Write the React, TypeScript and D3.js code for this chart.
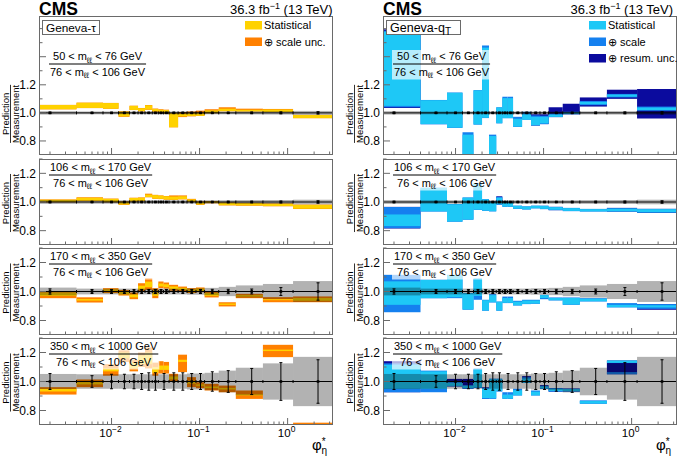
import React from 'react';
import * as d3 from 'd3';

// ---------------- data ----------------
const PHI_EDGES = [0, 0.004, 0.008, 0.012, 0.016, 0.02, 0.024, 0.029, 0.034, 0.039, 0.045, 0.057, 0.072, 0.091, 0.114, 0.165, 0.258, 0.524, 1.153, 3.277];
const PHI_EDGES_HIGH = [0, 0.004, 0.008, 0.012, 0.016, 0.02, 0.024, 0.029, 0.034, 0.045, 0.057, 0.072, 0.091, 0.114, 0.165, 0.258, 0.524, 1.153, 3.277];
const X_DOMAIN = [0.0015, 3.277];

const MASS_LO = [50, 106, 170, 350];
const MASS_HI = [76, 170, 350, 1000];
const REF_LO = 76;
const REF_HI = 106;

const X_TICK_LABELS = [[0.01, '10', '\u22122'], [0.1, '10', '\u22121'], [1, '10', '0']];
const Y_TICK_LABELS = [0.8, 1.0, 1.2];

const MODEL_NAMES = ['Geneva-\u03c4', 'Geneva-q'];
const LEGEND_LEFT = ['Statistical', '\u2295 scale unc.'];
const LEGEND_RIGHT = ['Statistical', '\u2295 scale', '\u2295 resum. unc.'];

// data uncertainty: error bar (stat) and grey band (total), half widths
const DATA_STAT_1 = [0.005, 0.004, 0.004, 0.004, 0.004, 0.004, 0.004, 0.004, 0.004, 0.004, 0.004, 0.004, 0.004, 0.004, 0.004, 0.004, 0.005, 0.006, 0.008];
const DATA_TOT_1 = [0.012, 0.01, 0.01, 0.01, 0.01, 0.01, 0.01, 0.01, 0.01, 0.01, 0.01, 0.01, 0.01, 0.01, 0.01, 0.01, 0.011, 0.012, 0.014];
const DATA_STAT_2 = [0.005, 0.004, 0.004, 0.004, 0.004, 0.004, 0.004, 0.004, 0.004, 0.004, 0.004, 0.004, 0.004, 0.004, 0.004, 0.005, 0.005, 0.006, 0.008];
const DATA_TOT_2 = [0.013, 0.012, 0.012, 0.012, 0.012, 0.012, 0.012, 0.012, 0.012, 0.012, 0.012, 0.012, 0.012, 0.012, 0.012, 0.012, 0.013, 0.014, 0.016];
const DATA_STAT_3 = [0.018, 0.014, 0.014, 0.014, 0.014, 0.014, 0.014, 0.014, 0.014, 0.014, 0.014, 0.014, 0.014, 0.014, 0.015, 0.015, 0.017, 0.027, 0.06];
const DATA_TOT_3 = [0.027, 0.02, 0.02, 0.02, 0.02, 0.02, 0.02, 0.02, 0.02, 0.02, 0.02, 0.02, 0.022, 0.022, 0.025, 0.032, 0.042, 0.052, 0.072];
const DATA_STAT_4 = [0.055, 0.04, 0.05, 0.05, 0.05, 0.055, 0.06, 0.06, 0.055, 0.06, 0.06, 0.055, 0.055, 0.067, 0.075, 0.09, 0.13, 0.15];
const DATA_TOT_4 = [0.052, 0.05, 0.05, 0.05, 0.05, 0.05, 0.05, 0.05, 0.05, 0.05, 0.05, 0.055, 0.055, 0.06, 0.075, 0.095, 0.125, 0.17];

// Geneva-tau: statistical band and stat (+) scale band, [low, high]
const TAU_STAT_1 = [[1.026, 1.056], [1.035, 1.072], [1.03, 1.07], [0.975, 1.009], [1.021, 1.05], [1.012, 1.033], [1.024, 1.054], [1.01, 1.028], [1.002, 1.022], [0.997, 1.02], [0.898, 0.998], [0.975, 0.995], [0.978, 1.0], [0.979, 1.0], [0.998, 1.018], [1.012, 1.03], [1.01, 1.022], [1.006, 1.024], [0.963, 0.985]];
const TAU_SCALE_1 = [[1.025, 1.057], [1.034, 1.073], [1.029, 1.071], [0.972, 1.011], [1.02, 1.051], [1.01, 1.035], [1.022, 1.056], [1.007, 1.031], [0.998, 1.026], [0.994, 1.023], [0.897, 1.0], [0.97, 1.006], [0.975, 1.01], [0.979, 1.016], [0.998, 1.026], [1.012, 1.04], [1.011, 1.03], [1.006, 1.028], [0.962, 0.986]];
const TAU_STAT_2 = [[1.0, 1.016], [1.008, 1.03], [1.0, 1.022], [0.982, 1.002], [1.005, 1.028], [1.008, 1.03], [1.034, 1.052], [1.024, 1.048], [1.022, 1.044], [1.018, 1.04], [1.016, 1.038], [1.02, 1.04], [1.002, 1.018], [0.982, 1.0], [0.993, 1.004], [0.978, 0.995], [0.976, 0.992], [0.972, 0.988], [0.953, 0.98]];
const TAU_SCALE_2 = [[0.998, 1.018], [1.006, 1.033], [0.998, 1.024], [0.98, 1.004], [1.003, 1.03], [1.006, 1.032], [1.033, 1.058], [1.022, 1.05], [1.02, 1.046], [1.016, 1.042], [1.015, 1.046], [1.018, 1.046], [1.0, 1.022], [0.98, 1.004], [0.991, 1.006], [0.976, 0.997], [0.974, 0.994], [0.97, 0.99], [0.951, 0.982]];
const TAU_STAT_3 = [[0.97, 0.993], [0.937, 0.948], [0.995, 1.015], [0.98, 1.0], [0.96, 0.98], [1.012, 1.04], [1.03, 1.068], [0.97, 1.008], [1.035, 1.055], [1.03, 1.05], [1.015, 1.035], [1.01, 1.025], [0.995, 1.015], [1.0, 1.02], [0.97, 0.99], [0.908, 0.917], [0.965, 0.975], [0.94, 0.947], [0.936, 0.955]];
const TAU_SCALE_3 = [[0.954, 0.996], [0.924, 0.96], [0.989, 1.023], [0.972, 1.011], [0.947, 0.993], [0.998, 1.057], [1.011, 1.092], [0.954, 1.023], [1.023, 1.069], [1.02, 1.062], [1.005, 1.046], [1.0, 1.034], [0.989, 1.023], [0.995, 1.028], [0.959, 1.0], [0.897, 0.926], [0.954, 0.984], [0.926, 0.961], [0.926, 0.966]];
const TAU_STAT_4 = [[0.931, 0.949], [0.98, 0.995], [1.07, 1.09], [1.16, 1.2], [1.09, 1.13], [1.12, 1.18], [1.12, 1.2], [1.06, 1.1], [1.08, 1.11], [1.08, 1.11], [1.015, 1.035], [1.135, 1.15], [0.985, 1.005], [0.97, 0.98], [0.955, 0.965], [0.945, 0.955], [0.904, 0.912], [1.21, 1.22], [0.69, 0.703]];
const TAU_SCALE_4 = [[0.91, 0.961], [0.961, 1.014], [1.04, 1.12], [1.135, 1.215], [1.07, 1.15], [1.1, 1.2], [1.09, 1.235], [1.04, 1.13], [1.055, 1.14], [1.055, 1.135], [1.0, 1.053], [1.065, 1.185], [0.961, 1.03], [0.954, 0.995], [0.938, 0.984], [0.926, 0.972], [0.88, 0.938], [1.168, 1.253], [0.68, 0.716]];

// Geneva-qT: statistical, stat (+) scale, stat (+) scale (+) resummation, [low, high]
const QT_STAT_1 = [[1.05, 1.578], [0.921, 1.09], [0.895, 1.143], [0.6, 0.845], [0.918, 1.16], [0.965, 1.465], [0.6, 0.835], [0.927, 1.038], [0.963, 1.105], [0.963, 1.105], [0.902, 0.958], [0.952, 0.99], [0.912, 0.972], [0.925, 0.972], [0.972, 0.988], [0.993, 1.004], [1.062, 1.078], [1.115, 1.13], [1.02, 1.038]];
const QT_SCALE_1 = [[1.04, 1.585], [0.918, 1.092], [0.893, 1.145], [0.6, 0.862], [0.916, 1.162], [0.963, 1.48], [0.6, 0.845], [0.925, 1.04], [0.962, 1.115], [0.962, 1.115], [0.9, 0.972], [0.951, 1.008], [0.91, 0.982], [0.92, 0.98], [0.97, 0.995], [0.99, 1.008], [1.055, 1.085], [1.11, 1.135], [1.015, 1.045]];
const QT_RESUM_1 = [[1.035, 1.595], null, null, null, null, null, null, null, null, null, null, null, [0.91, 0.99], [0.92, 0.99], [0.97, 1.04], [0.99, 1.065], [1.045, 1.11], [1.1, 1.165], [0.96, 1.17]];
const QT_STAT_2 = [[0.832, 0.913], [0.935, 1.098], [0.864, 0.984], [0.878, 1.03], [0.947, 1.128], [0.94, 1.018], [0.936, 1.003], [0.984, 1.03], [0.968, 1.003], [0.968, 0.998], [0.954, 0.973], [0.949, 0.968], [0.957, 0.973], [0.952, 0.972], [0.946, 0.964], [0.938, 0.957], [0.935, 0.95], [0.935, 0.954], [0.928, 0.95]];
const QT_SCALE_2 = [[0.818, 0.965], [0.933, 1.1], [0.862, 0.986], [0.876, 1.032], [0.945, 1.131], [0.938, 1.02], [0.934, 1.005], [0.982, 1.036], [0.966, 1.005], [0.966, 1.0], [0.952, 0.975], [0.947, 0.97], [0.955, 0.975], [0.95, 0.975], [0.943, 0.966], [0.936, 0.959], [0.933, 0.952], [0.933, 0.956], [0.926, 0.952]];
const QT_RESUM_2 = [[0.815, 0.966], null, null, null, null, null, null, [0.982, 1.04], null, null, null, null, null, null, [0.943, 0.966], null, null, [0.933, 0.959], [0.924, 0.952]];
const QT_STAT_3 = [[0.908, 1.07], [0.955, 1.08], [0.96, 1.113], [0.876, 0.988], [0.97, 1.088], [0.869, 0.94], [0.926, 0.975], [0.869, 0.929], [0.922, 0.955], [0.922, 0.955], [0.905, 0.93], [0.915, 0.938], [0.917, 0.938], [0.955, 0.975], [0.94, 0.955], [0.91, 0.955], [0.933, 0.95], [0.892, 0.908], [0.89, 0.905]];
const QT_SCALE_3 = [[0.857, 1.115], [0.953, 1.082], [0.954, 1.115], [0.874, 0.99], [0.943, 1.09], [0.867, 0.943], [0.924, 0.982], [0.867, 0.931], [0.92, 0.965], [0.92, 0.965], [0.903, 0.936], [0.913, 0.943], [0.915, 0.943], [0.947, 0.977], [0.938, 0.959], [0.908, 0.959], [0.931, 0.954], [0.89, 0.92], [0.88, 0.913]];
const QT_RESUM_3 = [null, null, null, null, null, null, null, null, null, null, null, null, null, null, null, null, null, null, [0.874, 0.913]];
const QT_STAT_4 = [[0.95, 1.115], [0.95, 1.07], [0.97, 0.99], [0.955, 0.97], [0.96, 1.085], [0.885, 0.95], [0.885, 1.015], [0.935, 1.015], [0.882, 0.91], [0.882, 0.91], [0.905, 0.94], [0.992, 1.02], [0.905, 0.93], [0.952, 0.965], [0.935, 0.95], [0.933, 0.947], [0.848, 0.865], [1.128, 1.145], null];
const QT_SCALE_4 = [[0.926, 1.125], [0.926, 1.075], [0.966, 0.998], [0.95, 0.975], [0.955, 1.09], [0.88, 0.955], [0.88, 1.02], [0.93, 1.02], [0.88, 0.926], [0.88, 0.926], [0.903, 0.95], [0.99, 1.03], [0.903, 0.938], [0.95, 0.97], [0.93, 0.953], [0.931, 0.95], [0.846, 0.87], [1.05, 1.065], null];
const QT_RESUM_4 = [[0.926, 1.14], null, [0.966, 1.018], [0.95, 1.018], null, [0.88, 0.96], null, null, null, null, null, [0.99, 1.037], null, [0.95, 0.975], [0.93, 0.955], [0.931, 0.952], null, [1.05, 1.145], null];

const DATA_EDGES = [PHI_EDGES, PHI_EDGES, PHI_EDGES, PHI_EDGES_HIGH];
const DATA_STAT = [DATA_STAT_1, DATA_STAT_2, DATA_STAT_3, DATA_STAT_4];
const DATA_TOT = [DATA_TOT_1, DATA_TOT_2, DATA_TOT_3, DATA_TOT_4];
const TAU_STAT = [TAU_STAT_1, TAU_STAT_2, TAU_STAT_3, TAU_STAT_4];
const TAU_SCALE = [TAU_SCALE_1, TAU_SCALE_2, TAU_SCALE_3, TAU_SCALE_4];
const QT_STAT = [QT_STAT_1, QT_STAT_2, QT_STAT_3, QT_STAT_4];
const QT_SCALE = [QT_SCALE_1, QT_SCALE_2, QT_SCALE_3, QT_SCALE_4];
const QT_RESUM = [QT_RESUM_1, QT_RESUM_2, QT_RESUM_3, QT_RESUM_4];

// ---------------- layout / style ----------------
const W = 677;
const H = 457;
const FONT = '"Liberation Sans", Arial, Helvetica, sans-serif';
const YELLOW = '#ffd200';
const ORANGE = '#ff8000';
const CYAN = '#1ec8f6';
const MEDIUM = '#1580ef';
const DARK = '#0b0b9e';
const GREY = '#b2b2b2';
const FRAME = '#6a6a6a';
const PANEL_X = [39, 383];
const PANEL_W = 294;
const ROWS = [
  { top: 16, bottom: 155, ymax: 1.69 },
  { top: 159, bottom: 245, ymax: 1.3 },
  { top: 248, bottom: 335, ymax: 1.3 },
  { top: 338, bottom: 425, ymax: 1.3 },
];

let ctx: CanvasRenderingContext2D | null = null;
function textWidth(s: string, size: number, weight = 'normal') {
  if (!ctx) ctx = document.createElement('canvas').getContext('2d');
  if (!ctx) return s.length * size * 0.55;
  ctx.font = `${weight} ${size}px ${FONT}`;
  return ctx.measureText(s).width;
}

function MassLabel({ x0, numBase, lo, hi }: { x0: number; numBase: number; lo: number; hi: number }) {
  const fs = 11;
  const sub = 8;
  const wNum = textWidth(`${lo} < m`, fs) + textWidth('\u2113\u2113', sub) + textWidth(` < ${hi} GeV`, fs);
  const wDen = textWidth(`${REF_LO} < m`, fs) + textWidth('\u2113\u2113', sub) + textWidth(` < ${REF_HI} GeV`, fs);
  const w = Math.max(wNum, wDen) + 2;
  const cx = x0 + w / 2;
  const lineY = numBase + 4;
  const denBase = numBase + 15.5;
  const part = (a: number, b: number, y: number) => (
    <text x={cx} y={y} textAnchor="middle" fontSize={fs} fontFamily={FONT} fill="#000">
      {`${a} < m`}
      <tspan fontSize={sub} dy={2.5}>{'\u2113\u2113'}</tspan>
      <tspan dy={-2.5}>{` < ${b} GeV`}</tspan>
    </text>
  );
  return (
    <g>
      <rect x={x0 - 1} y={numBase - 10} width={w + 2} height={denBase - numBase + 14} fill="#fff" fillOpacity={0.68} />
      {part(lo, hi, numBase)}
      <line x1={x0} x2={x0 + w} y1={lineY} y2={lineY} stroke="#000" strokeWidth={1} />
      {part(REF_LO, REF_HI, denBase)}
    </g>
  );
}

function Panel({ side, idx }: { side: number; idx: number }) {
  const row = ROWS[idx];
  const left = PANEL_X[side];
  const right = left + PANEL_W;
  const x = d3.scaleLog().domain(X_DOMAIN).range([left, right]);
  const y = d3.scaleLinear().domain([0.7, row.ymax]).range([row.bottom, row.top]);
  const xe = (e: number) => x(Math.max(e, X_DOMAIN[0]));
  const clipId = `clip-${side}-${idx}`;

  const layers =
    side === 0
      ? [
          { d: TAU_SCALE[idx], c: ORANGE },
          { d: TAU_STAT[idx], c: YELLOW },
        ]
      : [
          { d: QT_RESUM[idx], c: DARK },
          { d: QT_SCALE[idx], c: MEDIUM },
          { d: QT_STAT[idx], c: CYAN },
        ];

  const dEdges = DATA_EDGES[idx];
  const stat = DATA_STAT[idx];
  const tot = DATA_TOT[idx];

  const yTicks = d3.range(8, Math.floor(row.ymax * 10 + 1e-6) + 1).map((k) => k / 10);
  const xMinor: number[] = [];
  [0.001, 0.01, 0.1, 1].forEach((dec) => {
    for (let m = 2; m <= 9; m++) {
      const v = m * dec;
      if (v > X_DOMAIN[0] && v < X_DOMAIN[1]) xMinor.push(v);
    }
  });
  const xMajor = [0.01, 0.1, 1];
  const y1 = y(1);

  return (
    <g>
      <defs>
        <clipPath id={clipId}>
          <rect x={left} y={row.top} width={PANEL_W} height={row.bottom - row.top} />
        </clipPath>
      </defs>
      <g clipPath={`url(#${clipId})`}>
        {layers.map((L, li) =>
          L.d.map((b, i) =>
            b ? (
              <rect
                key={`${li}-${i}`}
                x={xe(PHI_EDGES[i])}
                width={xe(PHI_EDGES[i + 1]) - xe(PHI_EDGES[i])}
                y={y(b[1])}
                height={y(b[0]) - y(b[1])}
                fill={L.c}
              />
            ) : null
          )
        )}
        {tot.map((t, i) => (
          <rect
            key={`g${i}`}
            x={xe(dEdges[i])}
            width={xe(dEdges[i + 1]) - xe(dEdges[i])}
            y={y(1 + t)}
            height={y(1 - t) - y(1 + t)}
            fill={GREY}
            style={{ mixBlendMode: 'multiply' }}
          />
        ))}
        <line x1={left} x2={right} y1={y1} y2={y1} stroke="#000" strokeWidth={1} />
        {dEdges.slice(1, -1).map((e, i) => (
          <rect key={`e${i}`} x={xe(e) - 0.5} y={y1 - 1.5} width={1} height={3} fill="#000" />
        ))}
        {stat.map((s, i) => {
          const cx = x((dEdges[i] + dEdges[i + 1]) / 2);
          return (
            <g key={`p${i}`}>
              <line x1={cx} x2={cx} y1={y(1 + s)} y2={y(1 - s)} stroke="#000" strokeWidth={1} />
              <line x1={cx - 1.5} x2={cx + 1.5} y1={y(1 + s)} y2={y(1 + s)} stroke="#000" strokeWidth={1} />
              <line x1={cx - 1.5} x2={cx + 1.5} y1={y(1 - s)} y2={y(1 - s)} stroke="#000" strokeWidth={1} />
              <rect x={cx - 1.3} y={y1 - 1.3} width={2.6} height={2.6} fill="#000" />
            </g>
          );
        })}
      </g>
      <MassLabel x0={left + 10} numBase={idx === 0 ? row.top + 44 : row.top + 12} lo={MASS_LO[idx]} hi={MASS_HI[idx]} />
      {/* frame */}
      <rect x={left + 0.5} y={row.top + 0.5} width={PANEL_W - 1} height={row.bottom - row.top - 1} fill="none" stroke={FRAME} strokeWidth={1} />
      {/* y ticks */}
      {yTicks.map((v) => {
        const major = Math.round(v * 10) % 2 === 0;
        return <line key={`yt${v}`} x1={left} x2={left + (major ? 7 : 3.5)} y1={y(v)} y2={y(v)} stroke={FRAME} strokeWidth={1} />;
      })}
      {Y_TICK_LABELS.map((v) => (
        <text key={`yl${v}`} x={left - 3} y={y(v) + 4.2} textAnchor="end" fontSize={12} fontFamily={FONT} fill="#000">
          {v.toFixed(1)}
        </text>
      ))}
      {/* x ticks */}
      {xMinor.map((v) => (
        <line key={`xm${v}`} x1={x(v)} x2={x(v)} y1={row.bottom} y2={row.bottom - 3.5} stroke={FRAME} strokeWidth={1} />
      ))}
      {xMajor.map((v) => (
        <line key={`xM${v}`} x1={x(v)} x2={x(v)} y1={row.bottom} y2={row.bottom - 7} stroke={FRAME} strokeWidth={1} />
      ))}
      {idx === 3 &&
        X_TICK_LABELS.map(([v, base, exp]) => (
          <text key={`xl${v}`} x={x(v as number) - 1} y={437} textAnchor="middle" fontSize={11.5} fontFamily={FONT} fill="#000">
            {base}
            <tspan fontSize={8.5} dy={-5}>{exp}</tspan>
          </text>
        ))}
      {/* y title */}
      <g transform={`translate(${left - 28.5},${y1 + 1}) rotate(-90)`}>
        <text x={0} y={-2} textAnchor="middle" fontSize={9.5} fontFamily={FONT} fill="#000">Prediction</text>
        <line x1={-textWidth('Measurement', 9.5) / 2} x2={textWidth('Measurement', 9.5) / 2} y1={0} y2={0} stroke="#000" strokeWidth={0.8} />
        <text x={0} y={8.5} textAnchor="middle" fontSize={9.5} fontFamily={FONT} fill="#000">Measurement</text>
      </g>
    </g>
  );
}

function Header({ side }: { side: number }) {
  const left = PANEL_X[side];
  const right = left + PANEL_W;
  const legend = side === 0 ? LEGEND_LEFT : LEGEND_RIGHT;
  const colors = side === 0 ? [YELLOW, ORANGE] : [CYAN, MEDIUM, DARK];
  const boxW = side === 0 ? 57 : 74;
  return (
    <g>
      <text x={left} y={14.5} fontSize={17.5} fontWeight="bold" fontFamily={FONT} fill="#000">CMS</text>
      <text x={side === 0 ? right - 0.5 : right - 4} y={13.5} textAnchor="end" fontSize={13} fontFamily={FONT} fill="#000">
        36.3 fb
        <tspan fontSize={9} dy={-5}>{'\u22121'}</tspan>
        <tspan dy={5}>{' (13 TeV)'}</tspan>
      </text>
      <rect x={left + 3.5} y={20.5} width={boxW} height={14} fill="#fff" stroke={FRAME} strokeWidth={1} />
      <text x={left + 7} y={31.5} fontSize={side === 0 ? 11.8 : 12.5} fontFamily={FONT} fill="#000">
        {MODEL_NAMES[side]}
        {side === 1 && <tspan fontSize={10} dy={3}>T</tspan>}
      </text>
      {legend.map((t, i) => (
        <g key={t}>
          <rect x={left + 206} y={21 + i * 16.5} width={17} height={8.5} fill={colors[i]} />
          <text x={left + 225} y={29 + i * 16.5} fontSize={11} fontFamily={FONT} fill="#000">{t}</text>
        </g>
      ))}
      {/* x-axis title */}
      <text x={right - 21} y={450} fontSize={15} fontFamily={FONT} fill="#000">
        {'\u03c6'}
        <tspan fontSize={10} dy={-5}>*</tspan>
        <tspan fontSize={10} x={right - 11.5} dy={8.5}>{'\u03b7'}</tspan>
      </text>
    </g>
  );
}

export default function App() {
  return (
    <svg width={W} height={H} viewBox={`0 0 ${W} ${H}`} style={{ display: 'block', position: 'absolute', left: 0, top: 0, background: '#fff' }}>
      <rect x={0} y={0} width={W} height={H} fill="#fff" />
      {[0, 1].map((side) => (
        <g key={side}>
          {ROWS.map((_, idx) => (
            <Panel key={idx} side={side} idx={idx} />
          ))}
          <Header side={side} />
        </g>
      ))}
    </svg>
  );
}
